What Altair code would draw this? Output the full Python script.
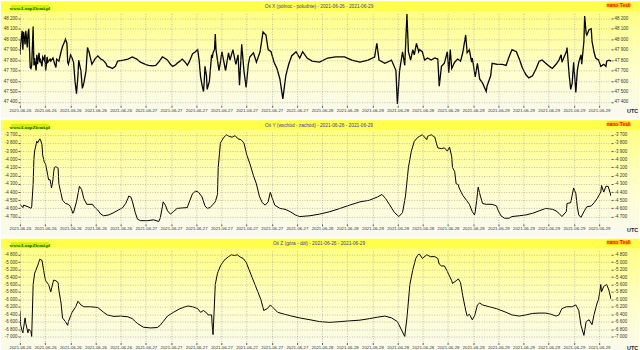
import altair as alt
import pandas as pd

# ---------------- data (hours since start of record, nano Tesla) ----------------
TIME_X = [0.0,0.1,0.3,0.4,0.5,0.7,0.8,1.0,1.1,1.2,1.4,1.5,1.6,1.8,1.9,2.0,2.2,2.3,2.4,2.6,2.7,2.8,3.0,3.1,3.3,3.4,3.5,3.7,3.8,4.1,4.2,4.5,4.7,4.9,5.0,5.3,5.6,5.8,6.1,6.2,6.4,6.5,6.6,6.9,7.1,7.3,7.5,7.7,7.9,8.0,8.3,8.5,8.7,9.0,9.2,9.4,9.8,10.2,10.6,11.0,11.3,11.7,11.9,12.3,12.6,13.0,13.3,13.7,14.1,14.7,15.3,15.9,16.4,17.1,17.5,18.0,18.5,19.0,19.4,19.8,20.1,20.5,20.8,21.2,21.4,21.8,22.1,22.5,22.8,23.1,23.5,23.9,24.2,24.4,24.6,24.8,25.0,25.1,25.2,25.4,25.5,25.8,26.1,26.2,26.3,26.5,26.6,26.7,26.9,27.1,27.3,27.5,28.0,28.4,28.6,29.0,29.4,29.7,29.9,30.2,30.5,30.8,31.1,31.3,31.8,32.2,32.7,33.1,33.5,33.8,34.2,34.6,35.0,35.4,35.8,36.2,36.6,37.0,37.6,38.1,38.5,39.1,39.8,40.8,41.9,43.0,44.2,45.2,46.3,47.4,48.3,48.6,48.9,49.7,50.6,51.2,51.4,51.7,52.1,52.4,52.7,52.9,53.2,53.5,53.7,54.0,54.3,54.4,54.8,55.1,55.5,56.0,56.5,56.9,57.1,57.4,57.8,58.2,58.4,58.6,58.8,59.2,59.6,60.0,60.3,60.7,60.9,61.2,61.5,61.6,62.0,62.3,62.6,63.0,63.5,63.6,64.1,64.3,65.0,65.7,66.2,66.6,67.0,67.6,68.0,68.4,68.9,69.3,69.8,70.3,70.7,71.1,71.6,72.1,72.5,73.0,73.4,73.7,73.8,74.4,74.5,74.8,75.0,75.2,75.4,75.7,75.9,76.1,76.4,76.5,76.8,76.9,77.1,77.2,77.5,77.8,77.9,78.2,78.4,78.8,79.1,79.5,79.8,79.9,80.2,80.5]
VAL_X = [47850,47950,48080,47900,48070,47950,48080,47920,48050,48100,47730,47720,47750,48120,47750,47820,47700,47850,47760,47870,47780,47800,47740,47830,47800,47850,47700,47830,47780,47810,47790,47820,47770,47730,47810,47790,47880,47930,47980,48000,47960,47780,47760,47850,47820,47780,47600,47480,47650,47800,47700,47530,47580,47700,47920,47880,47760,47810,47840,47810,47800,47770,47740,47730,47720,47740,47790,47795,47800,47810,47830,47810,47780,47760,47750,47745,47750,47790,47830,47815,47800,47760,47740,47755,47770,47790,47810,47780,47750,47790,47860,47880,47900,47800,47640,47560,47500,47600,47740,47650,47520,47600,47850,47820,47870,47900,48050,47900,47800,47700,47780,47880,47700,47870,47800,47900,47760,47850,47560,47950,47700,47540,47760,47830,47870,47780,47880,48070,48040,47900,47880,47780,47720,47620,47430,47650,47760,47840,47880,47820,47880,47820,47790,47780,47820,47830,47830,47800,47780,47800,47830,47960,47800,47770,47800,47700,47380,47700,47880,47750,48240,47880,47800,47900,47850,47960,47880,47900,47880,47800,47820,47800,47820,47810,47550,47740,47770,47880,47680,47900,47720,47780,47810,47790,47870,48040,47870,47900,47780,47820,47640,47770,47620,47580,47500,47550,47650,47770,47760,47760,47750,47830,47900,47880,47810,47730,47660,47630,47650,47720,47790,47800,47770,47740,47720,47760,47800,47850,47780,47880,47920,47650,47520,47580,47780,47490,47700,47780,47850,47760,47980,48220,48060,48040,48090,48100,47980,47870,47820,47800,47740,47760,47740,47790,47800,47790]

TIME_Y = [0.0,0.4,0.5,1.1,1.5,1.6,1.8,1.9,2.0,2.3,2.4,2.7,2.8,3.0,3.1,3.3,3.5,3.8,3.9,4.1,4.3,4.5,4.6,4.7,4.9,5.2,5.3,5.6,5.8,6.2,6.6,6.9,7.2,7.3,7.7,8.0,8.1,8.4,8.7,9.1,9.9,10.0,10.6,11.0,11.4,12.1,12.8,13.4,14.0,14.4,14.7,14.8,15.1,15.3,15.7,16.0,16.4,17.4,18.2,18.9,19.1,19.4,19.5,19.8,20.1,20.5,20.9,21.4,22.8,22.9,23.5,23.9,24.3,24.8,25.2,25.5,25.9,26.3,26.6,26.9,27.0,27.3,27.7,28.1,28.5,28.9,29.3,29.7,30.1,30.5,30.9,31.3,31.8,32.2,32.6,33.0,33.4,33.8,34.1,34.3,34.7,35.4,36.1,36.8,37.5,38.1,39.5,40.8,42.2,43.6,44.9,46.3,47.6,48.7,49.3,49.8,50.3,51.0,51.6,52.1,52.5,52.9,53.3,53.7,54.2,54.4,54.8,55.4,55.5,56.0,56.5,56.7,56.9,57.4,57.8,58.2,58.5,58.8,58.9,59.2,59.4,59.7,59.8,60.3,60.8,61.2,61.6,61.9,62.0,62.2,62.4,62.7,63.0,63.5,64.3,64.9,65.1,65.5,66.0,66.6,67.0,68.0,68.9,69.8,70.7,71.6,72.5,73.0,73.4,73.8,74.4,74.5,75.0,75.2,75.4,75.7,75.9,76.1,76.4,76.8,77.2,77.8,78.2,78.6,79.1,79.2,79.5,79.8,80.1,80.5]
VAL_Y = [-4550,-4590,-4560,-4580,-4600,-4580,-4300,-4000,-3900,-3780,-3800,-3750,-3760,-3820,-3950,-4030,-4060,-4200,-4250,-4250,-4350,-4250,-4150,-4100,-4090,-4110,-4300,-4420,-4500,-4540,-4550,-4580,-4660,-4650,-4520,-4380,-4330,-4370,-4480,-4550,-4550,-4570,-4620,-4670,-4690,-4680,-4650,-4620,-4590,-4540,-4480,-4450,-4460,-4510,-4650,-4730,-4750,-4750,-4740,-4760,-4720,-4580,-4520,-4560,-4630,-4670,-4640,-4600,-4590,-4560,-4420,-4390,-4400,-4460,-4570,-4600,-4590,-4550,-4520,-4430,-4100,-3800,-3740,-3700,-3720,-3730,-3710,-3750,-3760,-3800,-3950,-4050,-4200,-4300,-4450,-4530,-4560,-4520,-4400,-4460,-4560,-4600,-4610,-4640,-4680,-4700,-4690,-4670,-4640,-4600,-4560,-4520,-4500,-4460,-4430,-4480,-4550,-4650,-4700,-4650,-4450,-4100,-3900,-3780,-3730,-3720,-3700,-3760,-3720,-3700,-3730,-3800,-3860,-3870,-3860,-3900,-3850,-3970,-4100,-4150,-4300,-4310,-4350,-4440,-4500,-4550,-4640,-4680,-4640,-4500,-4340,-4450,-4540,-4550,-4550,-4570,-4620,-4690,-4720,-4720,-4700,-4690,-4680,-4660,-4630,-4600,-4610,-4630,-4660,-4700,-4640,-4540,-4530,-4440,-4350,-4420,-4580,-4680,-4710,-4640,-4580,-4570,-4530,-4480,-4400,-4320,-4400,-4330,-4330,-4450]

TIME_Z = [0.0,0.1,0.3,0.4,0.7,0.8,1.1,1.2,1.5,1.6,1.8,2.0,2.4,2.7,3.0,3.3,3.5,3.9,4.2,4.5,4.6,4.9,5.2,5.3,5.6,5.8,6.2,6.5,6.6,7.1,7.6,7.9,8.3,8.7,9.6,10.6,11.4,11.9,12.8,13.7,14.7,15.3,16.0,16.8,17.8,18.7,19.1,19.5,20.1,20.9,21.8,22.5,22.9,23.5,24.2,24.6,25.0,25.5,25.6,26.1,26.2,26.3,26.6,26.9,27.0,27.3,27.8,28.4,28.8,29.2,29.6,30.0,30.4,30.8,31.2,31.6,32.0,32.4,32.8,33.2,33.7,34.1,34.6,35.1,36.0,37.0,38.1,39.5,40.8,42.2,43.6,44.9,46.3,47.6,48.7,49.7,50.6,51.4,51.9,52.4,52.7,53.1,53.5,53.9,54.2,54.4,54.8,55.4,55.9,56.5,56.9,57.1,57.4,57.8,58.2,58.8,58.9,59.4,59.7,60.0,60.3,60.7,60.9,61.2,61.6,61.9,62.3,62.6,63.0,63.9,64.9,66.2,67.0,68.0,68.9,69.8,70.7,71.6,72.3,73.0,73.4,73.8,74.4,75.2,75.7,76.1,76.4,76.8,77.1,77.5,77.9,78.2,78.6,78.8,79.1,79.2,79.5,79.9,80.2,80.5]
VAL_Z = [-6300,-6700,-6850,-6900,-6500,-6650,-6900,-6800,-6870,-7000,-5600,-5300,-5100,-4920,-4950,-5300,-5500,-5600,-5800,-5550,-5480,-5500,-5550,-5750,-6100,-6500,-6600,-6700,-6600,-6350,-6200,-6050,-6150,-6200,-6200,-6220,-6350,-6420,-6460,-6450,-6470,-6520,-6650,-6750,-6770,-6760,-6700,-6600,-6450,-6350,-6250,-6200,-6180,-6200,-6250,-6350,-6300,-6380,-6420,-6420,-6750,-6950,-5600,-5300,-5250,-5100,-4950,-4850,-4800,-4820,-4800,-4860,-4900,-5000,-5200,-5400,-5600,-5800,-6000,-6300,-6250,-6150,-6250,-6350,-6400,-6450,-6500,-6550,-6600,-6620,-6600,-6580,-6560,-6520,-6480,-6450,-6500,-6600,-6800,-7000,-6500,-5600,-5200,-4900,-4800,-4780,-4900,-4800,-4850,-4850,-4900,-5050,-5100,-5100,-5250,-5500,-5570,-5500,-5450,-5550,-5900,-6300,-6450,-6400,-6550,-6450,-6150,-6100,-6150,-6200,-6250,-6350,-6420,-6450,-6420,-6380,-6370,-6370,-6400,-6450,-6420,-6250,-6200,-6200,-6150,-6300,-6700,-6970,-6600,-6550,-6680,-6400,-6100,-6000,-5600,-5800,-5650,-5600,-5750,-6000]

TICK_LABELS = ["2021-06-26", "2021-06-26", "2021-06-26", "2021-06-26", "2021-06-26",
               "2021-06-27", "2021-06-27", "2021-06-27", "2021-06-27", "2021-06-27", "2021-06-27", "2021-06-27",
               "2021-06-28", "2021-06-28", "2021-06-28", "2021-06-28", "2021-06-28", "2021-06-28", "2021-06-28",
               "2021-06-29", "2021-06-29", "2021-06-29", "2021-06-29", "2021-06-29"]
TICK_STEP = 24 / 7
TIME_DOMAIN = [0, 80.5]

TITLES = ["Oś X (północ - południe) - 2021-06-26 - 2021-06-29",
          "Oś Y (wschód - zachód) - 2021-06-26 - 2021-06-29",
          "Oś Z (góra - dół) - 2021-06-26 - 2021-06-29"]
Y_TICKS_X = [47400, 47500, 47600, 47700, 47800, 47900, 48000, 48100, 48200]
Y_TICKS_Y = [-4700, -4600, -4500, -4400, -4300, -4200, -4100, -4000, -3900, -3800, -3700]
Y_TICKS_Z = [-7000, -6800, -6600, -6400, -6200, -6000, -5800, -5600, -5400, -5200, -5000, -4800]
Y_DOM_X = [47369, 48245]
Y_DOM_Y = [-4789, -3668]
Y_DOM_Z = [-7162, -4692]

# ---------------- chart ----------------
W, H = 593, 92
TICK_HOURS = [i * TICK_STEP for i in range(len(TICK_LABELS))]
XEXPR = "[" + ",".join("'%s'" % s for s in TICK_LABELS) + "][round(datum.value / %.6f)]" % TICK_STEP
YEXPR = "(datum.value < 0 ? '-' : '') + replace(format(abs(datum.value), ','), ',', ' ')"

GRAD = alt.LinearGradient(
    gradient="linear",
    stops=[alt.GradientStop(color="#ffff78", offset=0),
           alt.GradientStop(color="#ffffc8", offset=0.55),
           alt.GradientStop(color="#f9f9f1", offset=1)],
    x1=0, x2=0, y1=0, y2=1)

ONE = pd.DataFrame({"k": [0]})
FONT = "Liberation Sans"


def panel(times, vals, title, ydom, yticks, lw):
    df = pd.DataFrame({"t": times, "v": vals})
    bg = alt.Chart(ONE).mark_rect(fill=GRAD).encode(
        x=alt.value(-19), x2=alt.value(W + 28), y=alt.value(-12), y2=alt.value(H + 13))
    band = alt.Chart(ONE).mark_rect(fill="#ffff4a").encode(
        x=alt.value(-19), x2=alt.value(W + 28), y=alt.value(-12), y2=alt.value(-2.5))
    wbox = alt.Chart(ONE).mark_rect(fill="#d6f000").encode(
        x=alt.value(-9), x2=alt.value(29), y=alt.value(-8.5), y2=alt.value(-3))
    wtxt = alt.Chart(ONE).mark_text(text="www.LoopZiemi.pl", font="Liberation Serif", fontWeight="bold",
                                    fontSize=5, color="#116600", align="center", baseline="middle").encode(
        x=alt.value(10), y=alt.value(-5.6))
    nbox = alt.Chart(ONE).mark_rect(fill="#ffd400").encode(
        x=alt.value(589), x2=alt.value(612), y=alt.value(-11), y2=alt.value(-6))
    ntxt = alt.Chart(ONE).mark_text(text="nano Tesli", font=FONT, fontWeight="bold", fontSize=5,
                                    color="#ff0000", align="center", baseline="middle").encode(
        x=alt.value(600.5), y=alt.value(-8.4))
    ttl = alt.Chart(ONE).mark_text(text=title, font=FONT, fontSize=4.8, color="#3a3aa8",
                                   align="center", baseline="middle").encode(
        x=alt.value(300), y=alt.value(-6.5))
    utc = alt.Chart(ONE).mark_text(text="UTC", font=FONT, fontWeight="bold", fontSize=5.5,
                                   color="#222222", align="left", baseline="middle").encode(
        x=alt.value(609), y=alt.value(H + 6))

    xenc = alt.X("t:Q", scale=alt.Scale(domain=TIME_DOMAIN, nice=False, zero=False),
                 axis=alt.Axis(values=TICK_HOURS, labelExpr=XEXPR, title=None, grid=True,
                               gridColor="#9a9a9a", gridDash=[1, 1.5], gridWidth=0.6,
                               labelFont=FONT, labelFontSize=4.3, labelColor="#333333",
                               labelAngle=0, labelOverlap=False, labelFlush=False, labelPadding=1,
                               tickSize=2, tickColor="#555555", domain=False, zindex=1))
    yaxis_common = dict(values=yticks, labelExpr=YEXPR, title=None, labelFont=FONT, labelFontSize=4.5,
                        labelColor="#333333", labelOverlap=False, labelPadding=1, tickSize=2,
                        tickColor="#555555", domain=False, zindex=1)
    yscale = alt.Scale(domain=ydom, nice=False, zero=False)
    line = alt.Chart(df).mark_line(color="#000000", strokeWidth=lw, clip=True).encode(
        x=xenc,
        y=alt.Y("v:Q", scale=yscale,
                axis=alt.Axis(orient="left", grid=True, gridColor="#9a9a9a", gridDash=[1, 1.5],
                              gridWidth=0.6, **yaxis_common)))
    ghost = alt.Chart(df).mark_line(opacity=0).encode(
        x=xenc,
        y=alt.Y("v:Q", scale=yscale, axis=alt.Axis(orient="right", grid=False, **yaxis_common)))
    return alt.layer(bg, band, wbox, wtxt, nbox, ntxt, ttl, utc, line, ghost).resolve_axis(
        y="independent").properties(width=W, height=H)


chart = alt.vconcat(
    panel(TIME_X, VAL_X, TITLES[0], Y_DOM_X, Y_TICKS_X, 1.3),
    panel(TIME_Y, VAL_Y, TITLES[1], Y_DOM_Y, Y_TICKS_Y, 1.0),
    panel(TIME_Z, VAL_Z, TITLES[2], Y_DOM_Z, Y_TICKS_Z, 1.0),
    spacing=0,
).properties(padding=0, background="#ffffff").configure_view(
    stroke="#3a3a3a", strokeWidth=1).configure_concat(spacing=0)

chart.save("out.html", embed_options={"renderer": "svg", "actions": False})
